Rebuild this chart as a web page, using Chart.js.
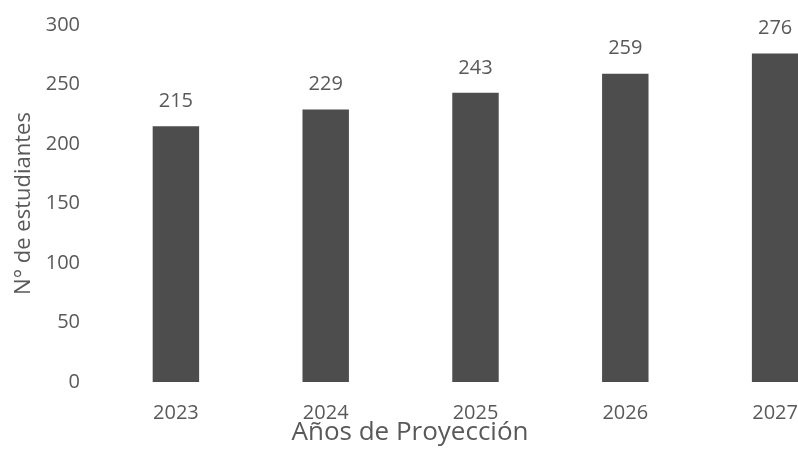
<!DOCTYPE html>
<html>
<head>
<meta charset="utf-8">
<script src="https://cdn.jsdelivr.net/npm/chart.js@4/dist/chart.umd.min.js"></script>
<style>
  html, body { margin: 0; padding: 0; background: #fff; overflow: hidden; width: 798px; height: 450px; }
  #wrap { width: 850px; height: 450px; }
</style>
</head>
<body>
<div id="wrap"><canvas id="c" width="850" height="450"></canvas></div>
<script>
// Proyección de matrícula por año
const years = ['2023', '2024', '2025', '2026', '2027'];
const students = [215, 229, 243, 259, 276];
const yTicks = [0, 50, 100, 150, 200, 250, 300];

const FONT = "'Open Sans', 'Liberation Sans', sans-serif";
const TEXT = '#595959';

// Etiquetas de valor sobre cada barra
const valueLabels = {
  id: 'valueLabels',
  afterDatasetsDraw(chart) {
    const ctx = chart.ctx;
    const meta = chart.getDatasetMeta(0);
    ctx.save();
    ctx.font = '20px ' + FONT;
    ctx.fillStyle = TEXT;
    ctx.textAlign = 'center';
    ctx.textBaseline = 'middle';
    meta.data.forEach((bar, i) => {
      ctx.fillText(String(chart.data.datasets[0].data[i]), bar.x, bar.y - 25);
    });
    ctx.restore();
  }
};

// Título del eje horizontal
const xTitle = {
  id: 'xTitle',
  afterDraw(chart) {
    const ctx = chart.ctx;
    ctx.save();
    ctx.font = '26px ' + FONT;
    ctx.fillStyle = TEXT;
    ctx.textAlign = 'center';
    ctx.textBaseline = 'alphabetic';
    ctx.fillText('Años de Proyección', 410, 440);
    ctx.restore();
  }
};

new Chart(document.getElementById('c'), {
  type: 'bar',
  data: {
    labels: years,
    datasets: [{
      data: students,
      backgroundColor: '#4c4d4c',
      borderWidth: 0,
      barPercentage: 0.62,
      categoryPercentage: 0.5
    }]
  },
  options: {
    responsive: false,
    animation: false,
    layout: { padding: { top: 25, left: 0, right: 0, bottom: 0 } },
    plugins: { legend: { display: false }, tooltip: { enabled: false } },
    scales: {
      x: {
        grid: { display: false, drawTicks: false },
        border: { display: false },
        ticks: { color: TEXT, font: { family: FONT, size: 20 }, padding: 19 },
        afterFit(scale) { scale.height = 68; scale.paddingLeft = 0; scale.paddingRight = 0; }
      },
      y: {
        min: 0,
        max: 300,
        afterBuildTicks(scale) { scale.ticks = yTicks.map(v => ({ value: v })); },
        grid: { display: false, drawTicks: false },
        border: { display: false },
        ticks: { color: TEXT, font: { family: FONT, size: 20 }, padding: 21 },
        title: {
          display: true,
          text: 'N° de estudiantes',
          color: TEXT,
          font: { family: FONT, size: 22 },
          padding: { top: 11, bottom: 0 }
        },
        afterFit(scale) { scale.width = 101; scale.paddingTop = 0; scale.paddingBottom = 0; }
      }
    }
  },
  plugins: [valueLabels, xTitle]
});
</script>
</body>
</html>
